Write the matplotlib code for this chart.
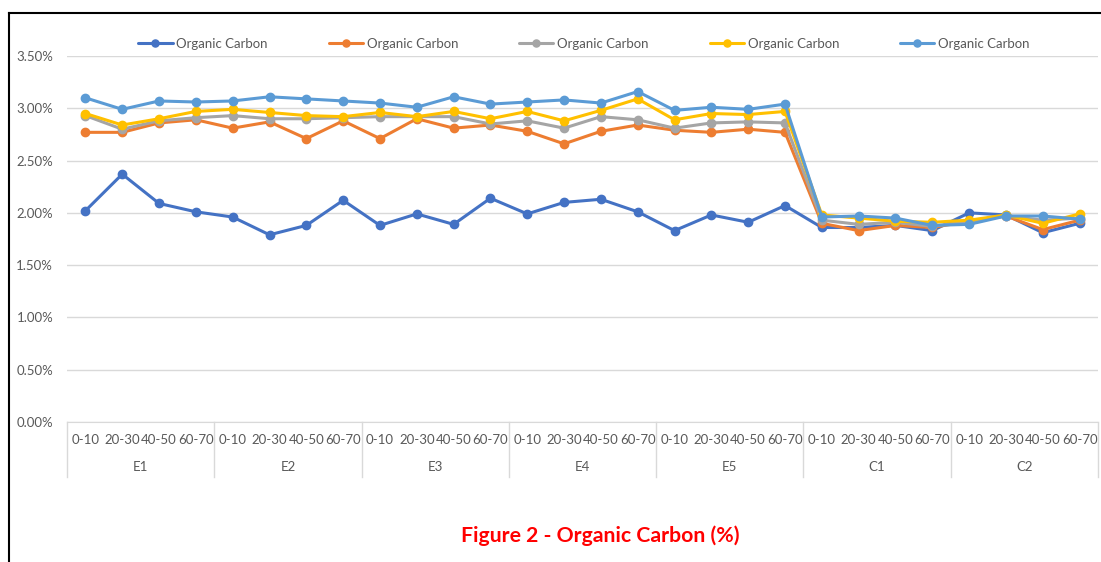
import matplotlib
matplotlib.use("Agg")
import matplotlib.pyplot as plt
from matplotlib.ticker import PercentFormatter, MultipleLocator
from matplotlib.lines import Line2D
import matplotlib.transforms as mtransforms

groups = ["E1", "E2", "E3", "E4", "E5", "C1", "C2"]
depths = ["0-10", "20-30", "40-50", "60-70"]

series_names = ["Organic Carbon"] * 5
s1 = [2.02, 2.37, 2.09, 2.01, 1.96, 1.79, 1.88, 2.12, 1.88, 1.99, 1.89, 2.14, 1.99, 2.10,
      2.13, 2.01, 1.83, 1.98, 1.91, 2.07, 1.86, 1.86, 1.88, 1.83, 2.00, 1.98, 1.81, 1.90]
s2 = [2.77, 2.77, 2.86, 2.89, 2.81, 2.87, 2.71, 2.88, 2.71, 2.90, 2.81, 2.84, 2.78, 2.66,
      2.78, 2.84, 2.79, 2.77, 2.80, 2.77, 1.90, 1.83, 1.88, 1.86, 1.92, 1.97, 1.84, 1.93]
s3 = [2.93, 2.80, 2.88, 2.91, 2.93, 2.90, 2.90, 2.91, 2.92, 2.92, 2.92, 2.85, 2.88, 2.81,
      2.92, 2.89, 2.81, 2.86, 2.87, 2.86, 1.93, 1.89, 1.91, 1.87, 1.92, 1.97, 1.93, 1.95]
s4 = [2.95, 2.84, 2.90, 2.97, 2.99, 2.96, 2.93, 2.92, 2.96, 2.92, 2.97, 2.90, 2.97, 2.88,
      2.98, 3.09, 2.89, 2.95, 2.94, 2.97, 1.98, 1.95, 1.92, 1.91, 1.93, 1.98, 1.90, 1.99]
s5 = [3.10, 2.99, 3.07, 3.06, 3.07, 3.11, 3.09, 3.07, 3.05, 3.01, 3.11, 3.04, 3.06, 3.08,
      3.05, 3.16, 2.98, 3.01, 2.99, 3.04, 1.96, 1.97, 1.95, 1.88, 1.89, 1.97, 1.97, 1.94]
colors = ["#4472C4", "#ED7D31", "#A5A5A5", "#FFC000", "#5B9BD5"]

plt.rcParams['font.family'] = ['Lato', 'DejaVu Sans']
W, H = 1101, 562
fig = plt.figure(figsize=(W / 100, H / 100), dpi=100)
ax = fig.add_axes([67 / W, 1 - 422 / H, (1098 - 67) / W, (422 - 56) / H])

n = len(groups) * len(depths)
xs = list(range(n))
for vals, c, name in zip([s1, s2, s3, s4, s5], colors, series_names):
    ax.plot(xs, [v / 100 for v in vals], color=c, lw=2.2, marker='o', ms=6,
            label=name, solid_capstyle='round', zorder=3)

ax.set_xlim(-0.5, n - 0.5)
ax.set_ylim(0, 0.035)
ax.yaxis.set_major_locator(MultipleLocator(0.005))
ax.yaxis.set_major_formatter(PercentFormatter(1, decimals=2))
ax.grid(axis='y', color='#D9D9D9', lw=1)
ax.set_axisbelow(True)
for sp in ['top', 'right', 'left']:
    ax.spines[sp].set_visible(False)
ax.spines['bottom'].set_color('#D9D9D9')
ax.tick_params(axis='y', length=0, pad=10, labelsize=9.5, labelcolor='#595959')
ax.set_xticks(xs)
ax.set_xticklabels(depths * len(groups))
ax.tick_params(axis='x', length=0, pad=9, labelsize=9.5, labelcolor='#595959')

trans = mtransforms.blended_transform_factory(ax.transData, ax.transAxes)
ybot = -(477 - 422) / (422 - 56)
for k in range(len(groups) + 1):
    xb = k * len(depths) - 0.5
    ax.add_line(Line2D([xb, xb], [0, ybot], transform=trans, color='#D9D9D9', lw=1, clip_on=False))
for k, g in enumerate(groups):
    ax.text(k * len(depths) + 1.5, -(467 - 422) / (422 - 56), g, transform=trans,
            ha='center', va='center', fontsize=9.5, color='#595959')

leg = ax.legend(loc='center', bbox_to_anchor=(584 / W, 1 - 44 / H), bbox_transform=fig.transFigure,
                ncol=5, frameon=False, fontsize=9.5, handlelength=2.6, columnspacing=4.6,
                handletextpad=0.3, markerscale=0.85)
for t in leg.get_texts():
    t.set_color('#595959')

fig.text(600 / W, 1 - 536 / H, "Figure 2 - Organic Carbon (%)", color='#FF0000', fontsize=15.3,
         fontweight='bold', ha='center', va='center')

fig.add_artist(Line2D([8.5 / W, 8.5 / W], [0, 1 - 12.5 / H], transform=fig.transFigure, color='black', lw=1.5))
fig.add_artist(Line2D([8.5 / W, 1], [1 - 12.5 / H, 1 - 12.5 / H], transform=fig.transFigure, color='black', lw=1.5))

fig.savefig("out.png", dpi=100, facecolor='white')
